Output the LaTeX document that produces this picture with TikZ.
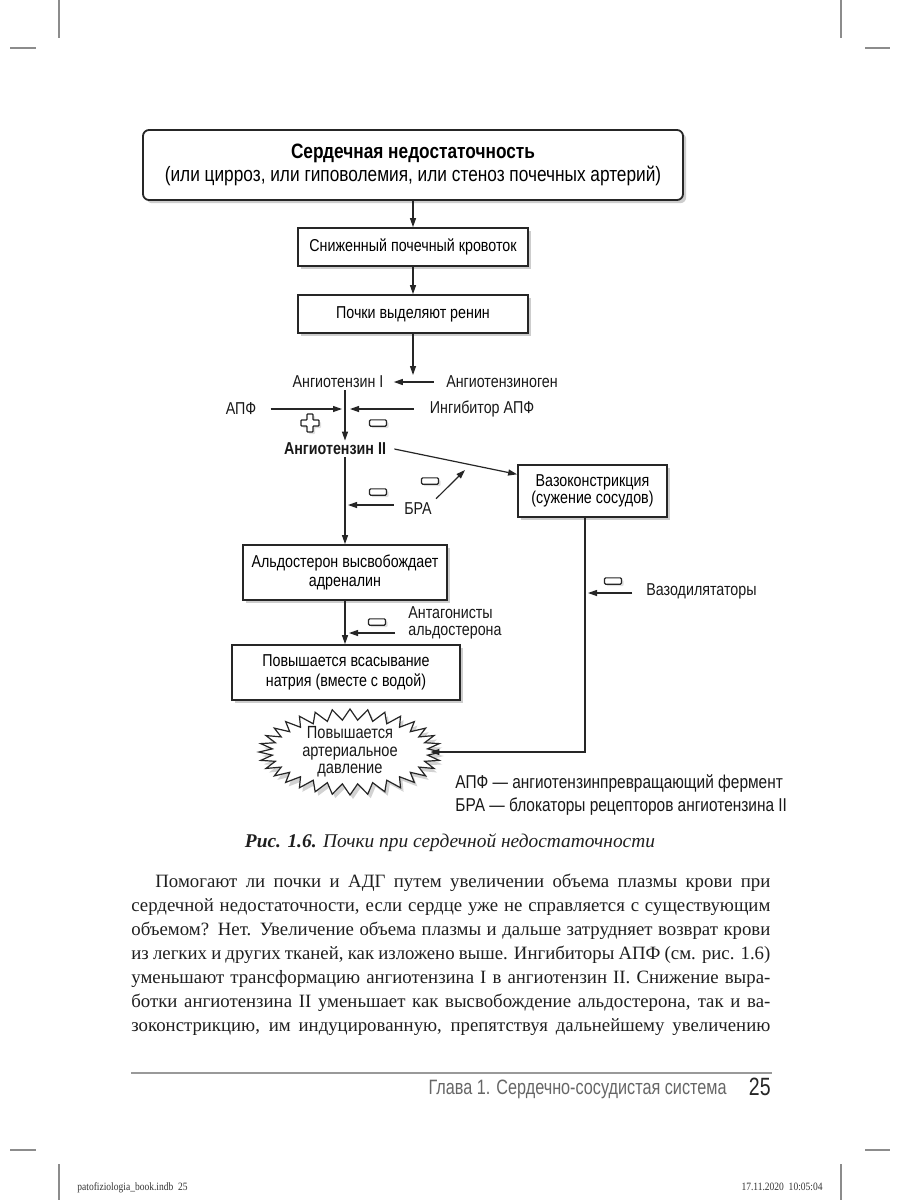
\documentclass[tikz,border=0pt]{standalone}
\usepackage{fontspec}
\setmainfont{Liberation Serif}
\newfontfamily\dsans[FakeStretch=0.83]{Liberation Sans}
\newfontfamily\fsans[FakeStretch=0.78]{Liberation Sans}
\newfontfamily\slugf[FakeStretch=0.85]{Liberation Serif}
\usetikzlibrary{arrows.meta,shadows,calc,shapes.geometric}
\begin{document}
\begin{tikzpicture}[x=0.5pt,y=-0.5pt,
  ink/.style={draw=black!85},
  shad/.style={drop shadow={shadow xshift=1.6pt,shadow yshift=-1.6pt,opacity=0.28,fill=black!70}},
  box/.style={ink,line width=0.9pt,fill=white,shad,align=center,inner sep=0pt,
    font=\dsans\fontsize{8.6}{9.7}\selectfont},
  lbl/.style={inner sep=1pt,font=\dsans\fontsize{8.6}{9.2}\selectfont,text=black!90},
  arr/.style={ink,line width=0.6pt,-{Triangle[length=4.5pt,width=3pt]}},
  minus/.style={ink,line width=0.55pt,fill=white,minimum width=8.5pt,minimum height=3.2pt,
    inner sep=0pt,rounded corners=0.6pt,
    drop shadow={shadow xshift=1pt,shadow yshift=-1pt,opacity=0.25}},
  crop/.style={draw=black!45,line width=0.6pt},
  bodyl/.style={anchor=base west,inner sep=0pt,font=\fontsize{9.4}{12}\selectfont,text=black!88}
]
\useasboundingbox (0,0) rectangle (900,1200);
\fill[white] (0,0) rectangle (900,1200);

% crop marks
\draw[crop] (59,0) -- (59,38);
\draw[crop] (841,0) -- (841,38);
\draw[crop] (10,48) -- (36,48);
\draw[crop] (865,48) -- (890,48);
\draw[crop] (10,1150) -- (36,1150);
\draw[crop] (865,1150) -- (890,1150);
\draw[crop] (59,1164) -- (59,1200);
\draw[crop] (841,1164) -- (841,1200);

\coordinate (ax) at (345,0);
\coordinate (vx) at (585,0);

% boxes
\node[box,rounded corners=3pt,minimum width=270pt,minimum height=35pt,
  font=\dsans\fontsize{10.4}{11.2}\selectfont] (hf) at (413,165)
  {{\bfseries Сердечная недостаточность}\\(или цирроз, или гиповолемия, или стеноз почечных артерий)};
\node[box,minimum width=115pt,minimum height=19pt] (rbf) at (413,247) {Сниженный почечный кровоток};
\node[box,minimum width=115pt,minimum height=19pt] (ren) at (413,314) {Почки выделяют ренин};
\node[box,minimum width=74.5pt,minimum height=26pt,font=\dsans\fontsize{8.6}{8.8}\selectfont] (vaso) at (592.5,491)
  {Вазоконстрикция\\(сужение сосудов)};
\node[box,minimum width=102pt,minimum height=27.5pt] (alb) at (345,572.5)
  {Альдостерон высвобождает\\адреналин};
\node[box,minimum width=114pt,minimum height=27.5pt] (na) at (346,672.5)
  {Повышается всасывание\\натрия (вместе с водой)};

% labels
\node[lbl] (ang1) at (338,382) {Ангиотензин I};
\node[lbl] (agen) at (502,382) {Ангиотензиноген};
\node[lbl] (apf) at (241,409) {АПФ};
\node[lbl] (iapf) at (482,409) {Ингибитор АПФ};
\node[lbl,font=\dsans\bfseries\fontsize{8.6}{9.2}\selectfont] (ang2) at (335,449) {Ангиотензин II};
\node[lbl] (bra) at (418,509) {БРА};
\node[lbl,anchor=west,align=left,font=\dsans\fontsize{8.6}{8.6}\selectfont] (antag) at (406,623) {Антагонисты\\альдостерона};
\node[lbl,anchor=west] (vd) at (644,591) {Вазодилятаторы};

% minus / plus
\node[minus] (m1) at (378,423) {};
\node[minus] (m2) at (378,492) {};
\node[minus] (m3) at (430,481) {};
\node[minus] (m4) at (377,622) {};
\node[minus] (m5) at (613,581) {};
\draw[ink,line width=0.6pt,fill=white,rounded corners=0.4pt,
  drop shadow={shadow xshift=1pt,shadow yshift=-1pt,opacity=0.25}]
  (307,414) -- (313,414) -- (313,420) -- (319,420) -- (319,426) -- (313,426) -- (313,432)
  -- (307,432) -- (307,426) -- (301,426) -- (301,420) -- (307,420) -- cycle;

% starburst
\node[ellipse,minimum width=80pt,minimum height=36pt,inner sep=0pt,align=center,
  font=\dsans\fontsize{8.6}{8.6}\selectfont] (bp) at (350,752) {};
\fill[black!70,opacity=0.25] ($(bp)+(3,4)+(0:91 and 43)$)
  \foreach \i in {1,...,63} { -- ($(bp)+(3,4)+({\i*5.625}:{84.5+6.5*cos(\i*180)} and {37.5+5.5*cos(\i*180)})$) } -- cycle;
\draw[ink,line width=0.6pt,fill=white,line join=miter] ($(bp)+(0:91 and 43)$)
  \foreach \i in {1,...,63} { -- ($(bp)+({\i*5.625}:{84.5+6.5*cos(\i*180)} and {37.5+5.5*cos(\i*180)})$) } -- cycle;
\node[align=center,inner sep=0pt,font=\dsans\fontsize{8.8}{8.8}\selectfont,text=black!90] (bpt) at (bp)
  {Повышается\\артериальное\\давление};

% connectors
\coordinate (j1) at (413,375);
\draw[arr] (hf.south) -- (rbf.north);
\draw[arr] (rbf.south) -- (ren.north);
\draw[arr] (ren.south) -- (j1);
\draw[arr] ([xshift=-5pt]agen.west) -- ([xshift=4pt]ang1.east);
\draw[arr] (ang1.south -| ax) -- (ang2.north -| ax);
\draw[arr] ([xshift=6pt]apf.east) -- ([xshift=-1.5pt]ax |- apf.east);
\draw[ink,line width=1.3pt] ([xshift=20pt]apf.east) -- ([xshift=-8pt]ax |- apf.east);
\draw[arr] ([xshift=-7pt]iapf.west) -- ([xshift=2.5pt]ax |- iapf.west);
\draw[arr] ([xshift=3pt]ang2.east) -- ($(vaso.north west)!0.19!(vaso.south west)$);
\draw[arr] (ang2.south -| ax) -- (alb.north);
\draw[arr] ([xshift=-4pt,yshift=2pt]bra.west) -- ([xshift=1.5pt,yshift=2pt]ax |- bra.west);
\coordinate (bt) at (465,470);
\draw[arr] ([xshift=1pt,yshift=1pt]bra.north east) -- (bt);
\draw[arr] (alb.south) -- (na.north -| alb.south);
\draw[arr] ([xshift=-5.5pt,yshift=-5pt]antag.west) -- ([xshift=2pt,yshift=-5pt]ax |- antag.west);
\draw[arr] (vaso.south -| vx) |- (bp.east);
\draw[arr] ([xshift=-6pt,yshift=-1pt]vd.west) -- ([xshift=1.5pt,yshift=-1pt]vx |- vd.west);
\draw[ink,line width=1.3pt] ([xshift=-6pt,yshift=-1pt]vd.west) -- ([xshift=-22pt,yshift=-1pt]vd.west);

% legend
\node[lbl,anchor=west,font=\dsans\fontsize{9.3}{10}\selectfont] (lg1) at (453,784) {АПФ — ангиотензинпревращающий фермент};
\node[lbl,anchor=west,font=\dsans\fontsize{9.3}{10}\selectfont] (lg2) at (453,807) {БРА — блокаторы рецепторов ангиотензина II};

% caption
\node[anchor=base,inner sep=0pt,font=\fontsize{9.7}{12}\selectfont,text=black!88] (cap) at (450,847)
  {\textbf{\textit{Рис. 1.6.}} \textit{Почки при сердечной недостаточности}};

% body text
\node[bodyl] (l1) at (155,887) {\makebox[307.5pt][s]{Помогают ли почки и АДГ путем увеличении объема плазмы крови при}};
\node[bodyl] (l2) at (131,911) {\makebox[319.5pt][s]{сердечной недостаточности, если сердце уже не справляется с существующим}};
\node[bodyl] (l3) at (131,935) {\makebox[319.5pt][s]{объемом? Нет. Увеличение объема плазмы и дальше затрудняет возврат крови}};
\node[bodyl] (l4) at (131,959) {\makebox[319.5pt][s]{из легких и других тканей, как изложено выше. Ингибиторы АПФ (см. рис. 1.6)}};
\node[bodyl] (l5) at (131,983) {\makebox[319.5pt][s]{уменьшают трансформацию ангиотензина I в ангиотензин II. Снижение выра-}};
\node[bodyl] (l6) at (131,1007) {\makebox[319.5pt][s]{ботки ангиотензина II уменьшает как высвобождение альдостерона, так и ва-}};
\node[bodyl] (l7) at (131,1031) {\makebox[319.5pt][s]{зоконстрикцию, им индуцированную, препятствуя дальнейшему увеличению}};

% footer
\draw[draw=black!40,line width=1.2pt] (131,1073) -- (772,1073);
\node[anchor=base east,inner sep=0pt,font=\fsans\fontsize{10.4}{12}\selectfont,text=black!60] (ch) at (727,1094)
  {Глава 1. Сердечно-сосудистая система};
\node[anchor=base east,inner sep=0pt,font=\fsans\fontsize{12.5}{13}\selectfont,text=black!85] (pg) at (771,1095) {25};
\node[anchor=base west,inner sep=0pt,font=\slugf\fontsize{5.6}{6}\selectfont,text=black!80] (sl1) at (77,1190)
  {patofiziologia\_book.indb\ \ 25};
\node[anchor=base east,inner sep=0pt,font=\slugf\fontsize{5.6}{6}\selectfont,text=black!80] (sl2) at (823,1190)
  {17.11.2020\ \ 10:05:04};
\end{tikzpicture}
\end{document}
